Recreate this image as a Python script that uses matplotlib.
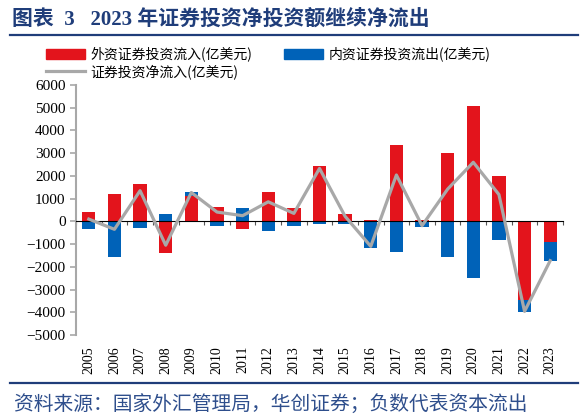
import numpy as np
import matplotlib.pyplot as plt
from matplotlib.patches import Patch
from matplotlib.lines import Line2D

plt.rcParams['font.family'] = ['Liberation Serif', 'Noto Sans CJK SC', 'DejaVu Sans']

years = [str(y) for y in range(2005, 2024)]
# 外资证券投资流入 (亿美元)
inflow = [390, 1220, 1630, -1390, 1120, 630, -330, 1280, 570, 2420,
          320, 80, 3370, 40, 2990, 5080, 1990, -3440, -920]
# 内资证券投资流出 (亿美元)
outflow = [-330, -1570, -280, 340, 180, -220, 570, -430, -220, -100,
           -110, -1180, -1340, -230, -1570, -2480, -810, -540, -810]
# 证券投资净流入 (亿美元)
net = [100, -350, 1350, -1050, 1270, 410, 250, 860, 350, 2330,
       220, -1100, 2040, -190, 1420, 2600, 1180, -3960, -1730]

red = '#E3141C'
blue = '#0062B8'
grey = '#A8A8A8'
navy = '#1F3D7A'
cjk = ['Noto Sans CJK SC', 'DejaVu Sans']

fig = plt.figure(figsize=(5.85, 4.19), dpi=100)
ax = fig.add_axes([76 / 585, 1 - 335 / 419, (563 - 76) / 585, (335 - 85) / 419])

x = np.arange(len(years))
inflow_a = np.array(inflow)
outflow_a = np.array(outflow)
# stacked like excel: same-sign values pile up, opposite signs start at zero
bottom = np.where(np.sign(inflow_a) == np.sign(outflow_a), inflow_a, 0)

ax.bar(x, inflow_a, width=0.52, color=red, zorder=2)
ax.bar(x, outflow_a, width=0.52, bottom=bottom, color=blue, zorder=2)
ax.plot(x, net, color=grey, lw=2.3, zorder=3)

ax.set_xlim(-0.5, len(years) - 0.5)
ax.set_ylim(-5000, 6000)
ax.set_yticks(range(-5000, 6001, 1000))
ax.tick_params(axis='y', labelsize=11, color=grey, width=1.2, length=4)

for s in ['top', 'right']:
    ax.spines[s].set_visible(False)
ax.spines['left'].set_color(grey)
ax.spines['left'].set_linewidth(1.5)
ax.spines['bottom'].set_position(('data', 0))
ax.spines['bottom'].set_color('black')
ax.spines['bottom'].set_linewidth(0.8)
ax.set_xticks(np.arange(-0.5, len(years), 1))
ax.tick_params(axis='x', labelbottom=False, length=3, width=0.8, color='#555555')

sec = ax.secondary_xaxis('bottom')
sec.set_xticks(x, labels=years, rotation=90)
sec.tick_params(length=0, labelsize=10, pad=8)
sec.spines['bottom'].set_visible(False)

# title and rules
fig.text(12 / 585, 1 - 20 / 419, '图表  3   2023 年证券投资净投资额继续净流出',
         family=['Liberation Serif', 'Noto Sans CJK SC'], fontsize=15,
         fontweight='bold', color=navy, va='center', ha='left')
fig.add_artist(Line2D([10 / 585, 578 / 585], [1 - 35 / 419, 1 - 35 / 419],
                      color=navy, lw=1.6))
fig.add_artist(Line2D([10 / 585, 578 / 585], [1 - 383 / 419, 1 - 383 / 419],
                      color=navy, lw=1.6))
fig.text(14 / 585, 1 - 405 / 419, '资料来源：国家外汇管理局，华创证券；负数代表资本流出',
         family=cjk, fontsize=14.2, color='#2E4E8C', va='center', ha='left',
         style='italic')

handles = [Patch(color=red), Line2D([], [], color=grey, lw=2.3), Patch(color=blue)]
labels = ['外资证券投资流入(亿美元)', '证券投资净流入(亿美元)', '内资证券投资流出(亿美元)']
fig.legend(handles, labels, ncol=2, loc='upper left',
           bbox_to_anchor=(36 / 585, 1 - 37 / 419), frameon=False,
           prop={'family': cjk, 'size': 10}, handlelength=2.8,
           handletextpad=0.4, columnspacing=2.3, labelspacing=0.2,
           borderpad=0.2)

fig.savefig('out.png', dpi=100)
